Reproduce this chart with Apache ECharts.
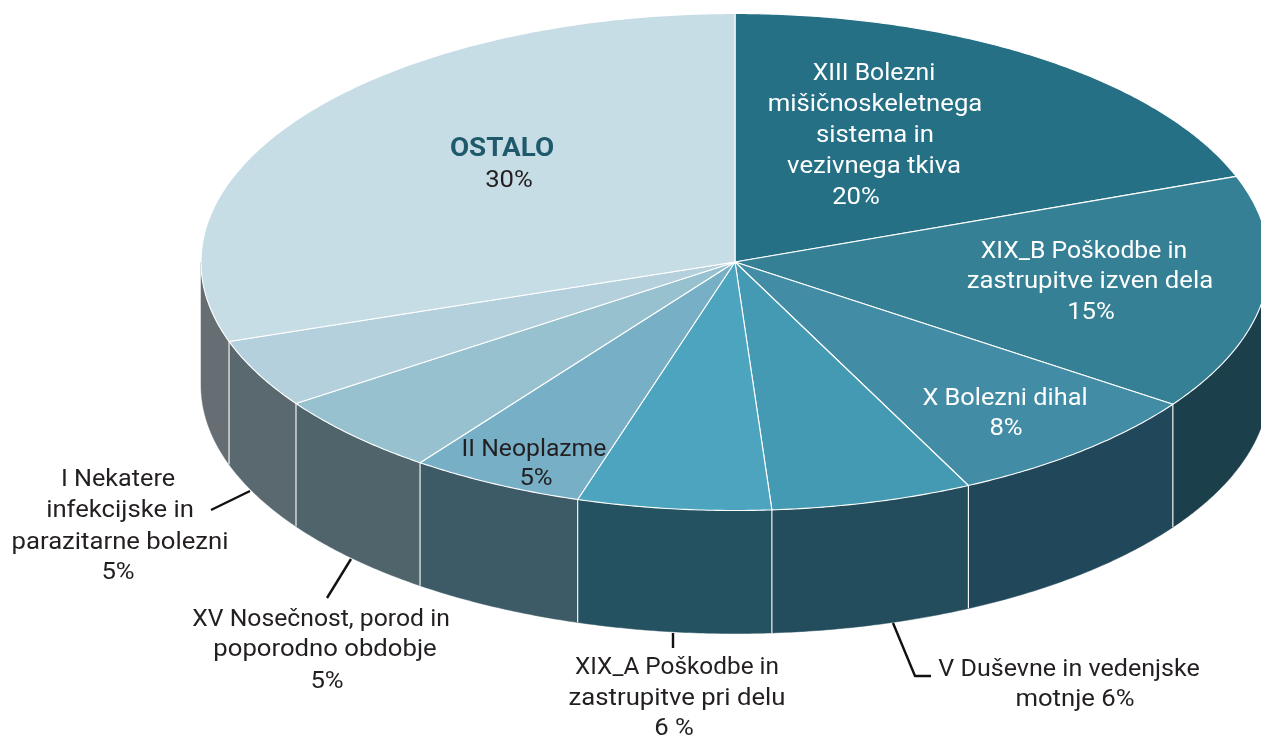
<!DOCTYPE html>
<html>
<head>
<meta charset="utf-8">
<script src="https://cdn.jsdelivr.net/npm/echarts@6/dist/echarts.min.js"></script>
<style>html,body{margin:0;padding:0;background:#fff;overflow:hidden}#c{width:1261px;height:735px}</style>
</head>
<body>
<div id="c"></div>
<script>
// ---- data ----
const categories = ['XIII Bolezni mišičnoskeletnega sistema in vezivnega tkiva','XIX_B Poškodbe in zastrupitve izven dela','X Bolezni dihal','V Duševne in vedenjske motnje','XIX_A Poškodbe in zastrupitve pri delu','II Neoplazme','XV Nosečnost, porod in poporodno obdobje','I Nekatere infekcijske in parazitarne bolezni','OSTALO'];
const values = [19.4, 15.3, 8.1, 6.1, 5.86, 5.28, 5.32, 4.46, 30.18];
const labelLines = [
  ['XIII Bolezni','mišičnoskeletnega','sistema in','vezivnega tkiva','20%'],
  ['XIX_B Poškodbe in','zastrupitve izven dela','15%'],
  ['X Bolezni dihal','8%'],
  ['V Duševne in vedenjske','motnje 6%'],
  ['XIX_A Poškodbe in','zastrupitve pri delu','6 %'],
  ['II Neoplazme','5%'],
  ['XV Nosečnost, porod in','poporodno obdobje','5%'],
  ['I Nekatere','infekcijske in','parazitarne bolezni','5%'],
  ['OSTALO','30%']
];
// ---- styling and layout ----
const topColors = ['#257084','#358094','#428da5','#439ab2','#4da4be','#77b0c6','#98c1d0','#b4d0dc','#c7dde6'];
const wallColors = ['#1c3f4c','#1c3f4c','#20475a','#234c5c','#245260','#3c5b66','#4f646b','#5a696f','#666e73'];
const labelColors = ['#fff','#fff','#fff','#231f20','#231f20','#231f20','#231f20','#231f20','#231f20'];
const labelPos = [
  [[874,74],[875,105],[875,136],[874,167],[856,198]],
  [[1084,252],[1090,282],[1091,313]],
  [[1005,399],[1006,429]],
  [[1069,670],[1075,700]],
  [[677,668],[677,699],[674,729]],
  [[534,450],[536,479]],
  [[321,620],[325,650],[327,682]],
  [[118,480],[120,511],[120,543],[118,573]],
  [[502,149],[509,181]]
];
// first-line stretch differs because the reference face has narrower capitals
const firstLineStretch = [1.03,1.03,1.055,1.045,1.015,1.03,1.03,1.05,1.07];
const leaders = [null,null,null,
  [[893,623],[915,676],[931,676]],
  [[673,633],[673,648]],
  null,
  [[351,559],[327,598]],
  [[250,491],[211,510]],
  null];
const CX=735, CY=262, RX=534, RY=248.5, DEPTH=123;
const FONT='Roboto', FS=24, TEXT_STRETCH=1.07;

const total = values.reduce((a,b)=>a+b,0);
const startAngle = i => values.slice(0,i).reduce((a,b)=>a+b,0)/total*360;
const pt = (deg,dy=0) => { const t=deg*Math.PI/180; return [CX+RX*Math.sin(t), CY-RY*Math.cos(t)+dy]; };
const arc = (a,b,dy=0) => { const p=[]; const n=Math.max(2,Math.ceil((b-a)*2)); for(let k=0;k<=n;k++) p.push(pt(a+(b-a)*k/n,dy)); return p; };
const seriesData = values.map((v,i)=>({name:categories[i],value:v}));

function renderWall(params){
  const i=params.dataIndex, a=startAngle(i), b=startAngle(i+1);
  const s=Math.max(a,90), e=Math.min(b,270);
  if(s>=e) return {type:'group',children:[]};
  return {type:'polygon',shape:{points:arc(s,e).concat(arc(s,e,DEPTH).reverse())},style:{fill:wallColors[i],stroke:wallColors[i],lineWidth:0.5}};
}
function renderSeam(params){
  const i=params.dataIndex, a=startAngle(i);
  if(a<=90||a>=270) return {type:'group',children:[]};
  const p=pt(a), q=pt(a,DEPTH);
  return {type:'line',shape:{x1:p[0],y1:p[1],x2:q[0],y2:q[1]},style:{stroke:'#f2f4f5',lineWidth:1.2}};
}
function renderTop(params){
  const i=params.dataIndex, a=startAngle(i), b=startAngle(i+1);
  return {type:'polygon',shape:{points:[[CX,CY]].concat(arc(a,b))},style:{fill:topColors[i],stroke:'#fff',lineWidth:1.1,lineJoin:'round'}};
}
function renderLabel(params){
  const i=params.dataIndex, children=[];
  if(leaders[i]) children.push({type:'polyline',shape:{points:leaders[i]},style:{fill:null,stroke:'#111',lineWidth:2.4,lineJoin:'round'}});
  labelLines[i].forEach((t,k)=>{
    const bold = i===8&&k===0;
    children.push({type:'text',x:labelPos[i][k][0],y:labelPos[i][k][1],scaleX:k===0?firstLineStretch[i]:TEXT_STRETCH,style:{text:t,align:'center',verticalAlign:'middle',
      fontFamily:FONT,fontSize:bold?26:FS,fontWeight:bold?700:400,fill:bold?'#1f5a6c':labelColors[i]}});
  });
  return {type:'group',children};
}
const mk=(render,z)=>({type:'custom',coordinateSystem:'none',renderItem:render,data:seriesData,z,silent:true,animation:false,clip:false});
const chart=echarts.init(document.getElementById('c'),null,{renderer:'canvas'});
chart.setOption({
  animation:false,
  backgroundColor:'#fff',
  series:[mk(renderWall,1),mk(renderSeam,2),mk(renderTop,3),mk(renderLabel,4)]
});
</script>
</body>
</html>
